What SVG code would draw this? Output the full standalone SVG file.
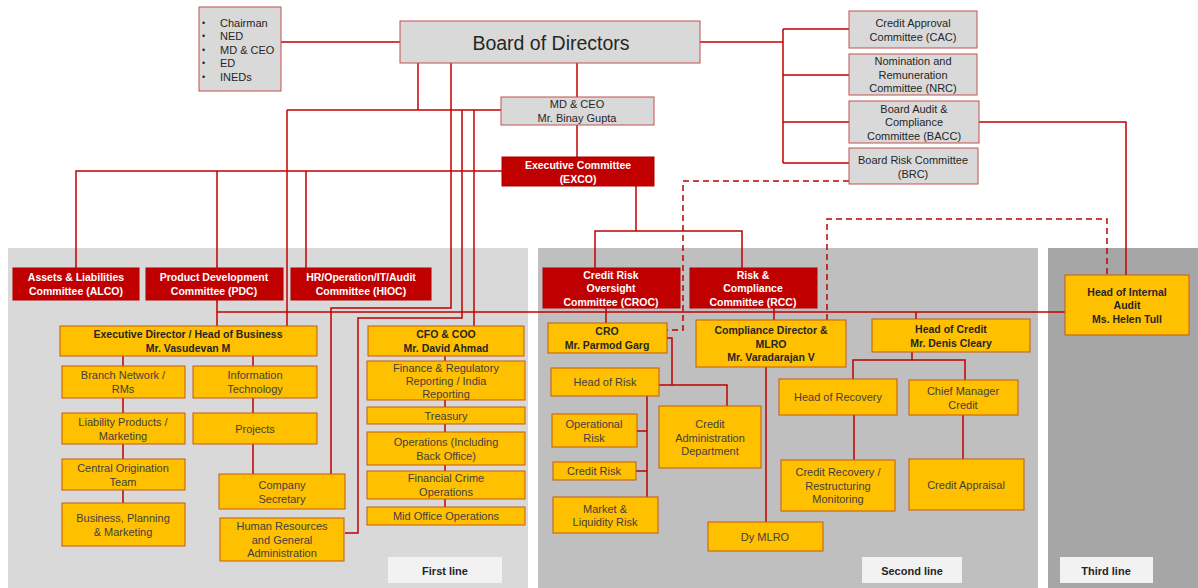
<svg xmlns="http://www.w3.org/2000/svg" width="1198" height="588" viewBox="0 0 1198 588">
<style>
text{font-family:"Liberation Sans",Arial,sans-serif;font-size:11px;text-anchor:middle;dominant-baseline:central}
.g rect{fill:#d9d9d9;stroke:#c0504d;stroke-width:1}
.g text{fill:#262626}
.r rect{fill:#c00000;stroke:#b00000;stroke-width:1}
.r text{fill:#ffffff;font-weight:bold;font-size:10.5px}
.o rect{fill:#ffc000;stroke:#c55a11;stroke-width:1}
.o text{fill:#3f3f3f}
.o text.b{fill:#262626;font-weight:bold;font-size:10.5px}
.lbl rect{fill:#f2f2f2}
.lbl text{fill:#262626;font-weight:bold;font-size:11px}
.c path{fill:none;stroke:#c00000;stroke-width:1.5}
.c path.d{stroke-dasharray:6 4}
</style>
<g id="panels">
<rect x="8" y="248" width="520" height="340" fill="#d9d9d9"/>
<rect x="538" y="248" width="500" height="340" fill="#bfbfbf"/>
<rect x="1048" y="248" width="150" height="340" fill="#a6a6a6"/>
</g>
<g class="c" id="connectors">
<path d="M281 42H400"/>
<path d="M700 42H783"/>
<path d="M783 29V163M783 29H849M783 75H849M783 122H849M783 163H849"/>
<path d="M979 122H1126V275"/>
<path d="M577 63V97"/>
<path d="M577 125V157"/>
<path d="M418 63V110"/>
<path d="M287 110H501"/>
<path d="M287 110V326"/>
<path d="M451 63V308H331V474"/>
<path d="M462 110V318H358V533H345"/>
<path d="M474 110V326"/>
<path d="M76 268V171H502"/>
<path d="M217 171V268M306 171V268"/>
<path d="M217 300V326"/>
<path d="M217 312H1065"/>
<path d="M636 186V231M595 268V231H742V268"/>
<path d="M606 308V323M774 308V320M916 312V319"/>
<path d="M123 356V366M123 398V413M123 444V459M123 490V503"/>
<path d="M253 356V366M253 398V413M253 444V474"/>
<path d="M445 356V361M445 400V407M445 424V432M445 465V471M445 499V507"/>
<path d="M667 338H672V385M659 385H727V406"/>
<path d="M647 396V497M637 431H647M636 471H647"/>
<path d="M766 367V522"/>
<path d="M912 352V360M853 379V360H965V380"/>
<path d="M854 415V460M963 415V459"/>
<path class="d" d="M849 181H683V330H667"/>
<path class="d" d="M827 320V219H1107V275"/>
</g>
<g id="members" class="g">
<rect x="199" y="7" width="82" height="84"/>
<g style="text-anchor:start">
<text x="202" y="23" style="text-anchor:start;font-size:9px">•</text>
<text x="202" y="36" style="text-anchor:start;font-size:9px">•</text>
<text x="202" y="50" style="text-anchor:start;font-size:9px">•</text>
<text x="202" y="63" style="text-anchor:start;font-size:9px">•</text>
<text x="202" y="77" style="text-anchor:start;font-size:9px">•</text>
<text x="220" y="23" style="text-anchor:start">Chairman</text>
<text x="220" y="36" style="text-anchor:start">NED</text>
<text x="220" y="50" style="text-anchor:start">MD &amp; CEO</text>
<text x="220" y="63" style="text-anchor:start">ED</text>
<text x="220" y="77" style="text-anchor:start">INEDs</text>
</g>
</g>
<g id="board" class="g"><rect x="400" y="21" width="300" height="42"/><text x="551" y="43" style="font-size:19.5px">Board of Directors</text></g>
<g id="mdceo" class="g"><rect x="501" y="97" width="153" height="28"/><text x="577" y="104">MD &amp; CEO</text><text x="577" y="118">Mr. Binay Gupta</text></g>
<g id="cac" class="g"><rect x="849" y="11" width="128" height="37"/><text x="913" y="23">Credit Approval</text><text x="913" y="37">Committee (CAC)</text></g>
<g id="nrc" class="g"><rect x="849" y="54" width="128" height="41"/><text x="913" y="61">Nomination and</text><text x="913" y="74.5">Remuneration</text><text x="913" y="88">Committee (NRC)</text></g>
<g id="bacc" class="g"><rect x="849" y="101" width="130" height="42"/><text x="914" y="108.5">Board Audit &amp;</text><text x="914" y="122">Compliance</text><text x="914" y="135.5">Committee (BACC)</text></g>
<g id="brc" class="g"><rect x="849" y="148" width="129" height="36"/><text x="913" y="159.5">Board Risk Committee</text><text x="913" y="173.5">(BRC)</text></g>
<g id="exco" class="r"><rect x="502" y="157" width="152" height="29"/><text x="578" y="165">Executive Committee</text><text x="578" y="178.5">(EXCO)</text></g>
<g id="alco" class="r"><rect x="13" y="268" width="126" height="32"/><text x="76" y="277">Assets &amp; Liabilities</text><text x="76" y="291">Committee (ALCO)</text></g>
<g id="pdc" class="r"><rect x="146" y="268" width="137" height="32"/><text x="214" y="277">Product Development</text><text x="214" y="291">Committee (PDC)</text></g>
<g id="hioc" class="r"><rect x="291" y="268" width="140" height="32"/><text x="361" y="277">HR/Operation/IT/Audit</text><text x="361" y="291">Committee (HIOC)</text></g>
<g id="croc" class="r"><rect x="543" y="268" width="137" height="40"/><text x="611" y="274.5">Credit Risk</text><text x="611" y="288">Oversight</text><text x="611" y="301.5">Committee (CROC)</text></g>
<g id="rcc" class="r"><rect x="690" y="268" width="127" height="40"/><text x="753" y="274.5">Risk &amp;</text><text x="753" y="288">Compliance</text><text x="753" y="301.5">Committee (RCC)</text></g>
<g id="ed" class="o"><rect x="60" y="326" width="257" height="30"/><text class="b" x="188" y="334">Executive Director / Head of Business</text><text class="b" x="188" y="348">Mr. Vasudevan M</text></g>
<g id="branch" class="o"><rect x="62" y="366" width="123" height="32"/><text x="123" y="375">Branch Network  /</text><text x="123" y="389">RMs</text></g>
<g id="it" class="o"><rect x="193" y="366" width="124" height="32"/><text x="255" y="375">Information</text><text x="255" y="389">Technology</text></g>
<g id="liab" class="o"><rect x="62" y="413" width="123" height="31"/><text x="123" y="421.5">Liability Products /</text><text x="123" y="435.5">Marketing</text></g>
<g id="projects" class="o"><rect x="193" y="413" width="124" height="31"/><text x="255" y="428.5">Projects</text></g>
<g id="central" class="o"><rect x="62" y="459" width="123" height="31"/><text x="123" y="467.5">Central Origination</text><text x="123" y="481.5">Team</text></g>
<g id="bpm" class="o"><rect x="62" y="503" width="123" height="43"/><text x="123" y="518">Business, Planning</text><text x="123" y="532">&amp; Marketing</text></g>
<g id="cs" class="o"><rect x="219" y="474" width="126" height="35"/><text x="282" y="484.5">Company</text><text x="282" y="498.5">Secretary</text></g>
<g id="hr" class="o"><rect x="220" y="518" width="124" height="43"/><text x="282" y="526">Human Resources</text><text x="282" y="539.5">and General</text><text x="282" y="553">Administration</text></g>
<g id="cfo" class="o"><rect x="368" y="326" width="156" height="30"/><text class="b" x="446" y="334">CFO &amp; COO</text><text class="b" x="446" y="348">Mr. David Ahmad</text></g>
<g id="frr" class="o"><rect x="367" y="361" width="158" height="39"/><text x="446" y="367.5">Finance &amp; Regulatory</text><text x="446" y="381">Reporting / India</text><text x="446" y="393.5">Reporting</text></g>
<g id="treasury" class="o"><rect x="367" y="407" width="158" height="17"/><text x="446" y="415.5">Treasury</text></g>
<g id="ops" class="o"><rect x="367" y="432" width="158" height="33"/><text x="446" y="441.5">Operations (Including</text><text x="446" y="455.5">Back Office)</text></g>
<g id="fcrime" class="o"><rect x="367" y="471" width="158" height="28"/><text x="446" y="478">Financial Crime</text><text x="446" y="492">Operations</text></g>
<g id="midoffice" class="o"><rect x="367" y="507" width="158" height="18"/><text x="446" y="516">Mid Office Operations</text></g>
<g id="cro" class="o"><rect x="548" y="323" width="119" height="30"/><text class="b" x="607" y="331">CRO</text><text class="b" x="607" y="345">Mr. Parmod Garg</text></g>
<g id="headrisk" class="o"><rect x="551" y="368" width="108" height="28"/><text x="605" y="382">Head of Risk</text></g>
<g id="oprisk" class="o"><rect x="552" y="414" width="85" height="33"/><text x="594" y="424">Operational</text><text x="594" y="438">Risk</text></g>
<g id="creditrisk" class="o"><rect x="553" y="462" width="83" height="18"/><text x="594" y="471">Credit Risk</text></g>
<g id="mlr" class="o"><rect x="553" y="497" width="105" height="36"/><text x="605" y="508.5">Market &amp;</text><text x="605" y="522">Liquidity Risk</text></g>
<g id="cad" class="o"><rect x="659" y="406" width="102" height="62"/><text x="710" y="424">Credit</text><text x="710" y="437.5">Administration</text><text x="710" y="450.5">Department</text></g>
<g id="compliance" class="o"><rect x="696" y="320" width="150" height="47"/><text class="b" x="771" y="330">Compliance Director &amp;</text><text class="b" x="771" y="343.5">MLRO</text><text class="b" x="771" y="357">Mr. Varadarajan V</text></g>
<g id="dymlro" class="o"><rect x="708" y="522" width="115" height="29"/><text x="765" y="537">Dy MLRO</text></g>
<g id="headcredit" class="o"><rect x="872" y="319" width="158" height="33"/><text class="b" x="951" y="328.5">Head of Credit</text><text class="b" x="951" y="342.5">Mr. Denis Cleary</text></g>
<g id="headrecovery" class="o"><rect x="779" y="379" width="118" height="36"/><text x="838" y="397">Head of Recovery</text></g>
<g id="crr" class="o"><rect x="781" y="460" width="114" height="51"/><text x="838" y="472">Credit Recovery /</text><text x="838" y="485.5">Restructuring</text><text x="838" y="499">Monitoring</text></g>
<g id="cmc" class="o"><rect x="909" y="380" width="109" height="35"/><text x="963" y="391">Chief Manager</text><text x="963" y="404.5">Credit</text></g>
<g id="appraisal" class="o"><rect x="909" y="459" width="115" height="51"/><text x="966" y="485">Credit Appraisal</text></g>
<g id="hia" class="o"><rect x="1065" y="275" width="124" height="60"/><text class="b" x="1127" y="291.5">Head of Internal</text><text class="b" x="1127" y="305">Audit</text><text class="b" x="1127" y="318.5">Ms. Helen Tull</text></g>
<g id="first" class="lbl"><rect x="388" y="557" width="114" height="26"/><text x="445" y="571">First line</text></g>
<g id="second" class="lbl"><rect x="862" y="557" width="100" height="26"/><text x="912" y="571">Second line</text></g>
<g id="third" class="lbl"><rect x="1060" y="557" width="93" height="26"/><text x="1106" y="571">Third line</text></g>
</svg>
